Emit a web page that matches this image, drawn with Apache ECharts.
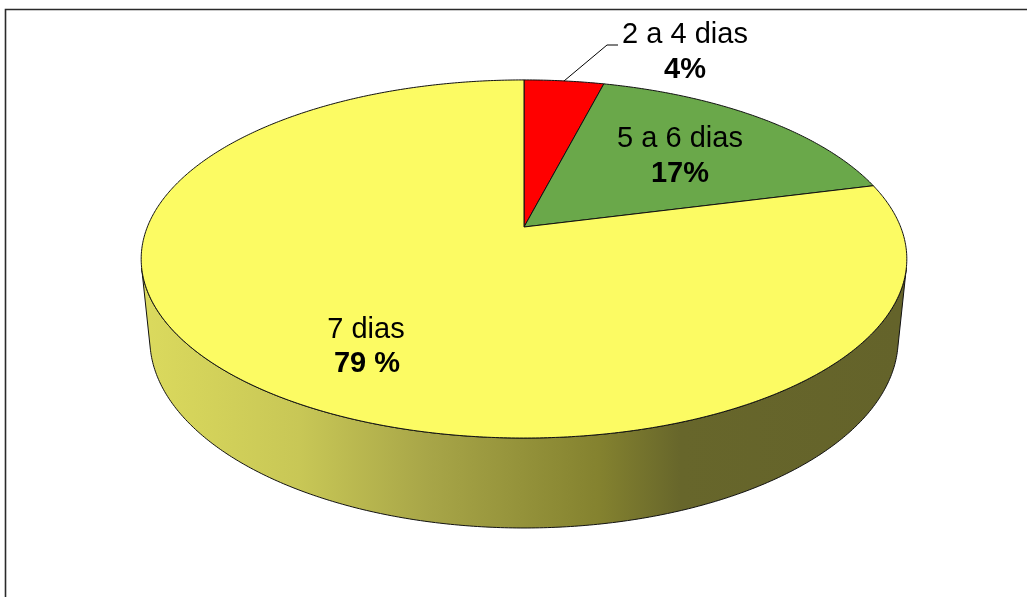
<!DOCTYPE html>
<html>
<head>
<meta charset="utf-8">
<style>
  html, body { margin: 0; padding: 0; background: #ffffff; }
  #chart { width: 1027px; height: 597px; }
</style>
<script src="https://cdn.jsdelivr.net/npm/echarts@6/dist/echarts.min.js"></script>
</head>
<body>
<div id="chart"></div>
<script>
// Days per week
const categories = ['2 a 4 dias', '5 a 6 dias', '7 dias'];
const shares = [4, 17, 79];
const shareLabels = ['4%', '17%', '79 %'];
const sliceColors = ['#ff0000', '#6aa84a', '#fcfb63'];

// ---- 3D pie camera (perspective view of a flat cylinder) ----
const VIEW = {
  cx: 524, cy: 227,          // screen point of the disc centre
  focal: 1872,               // focal length, px
  dist: 4.97,                // camera distance in disc radii
  tilt: 27.4 * Math.PI / 180,
  thickness: 0.241           // cylinder height in disc radii
};
const sinT = Math.sin(VIEW.tilt), cosT = Math.cos(VIEW.tilt);

function project(X, Y, Z) {
  const depth = VIEW.dist - Y * sinT + Z * cosT;
  const up = Y * cosT + Z * sinT;
  return [VIEW.cx + VIEW.focal * X / depth, VIEW.cy - VIEW.focal * up / depth];
}
// angle in degrees, clockwise from the back (12 o'clock)
function rim(deg, r, Y) {
  const a = deg * Math.PI / 180;
  return project(r * Math.sin(a), Y, r * Math.cos(a));
}
// silhouette angles of the side wall
const silZ = -1 / (VIEW.dist * cosT);
const silRight = Math.acos(silZ) * 180 / Math.PI;
const silLeft = 360 - silRight;

const total = shares.reduce((s, v) => s + v, 0);
const starts = shares.map((v, i) => shares.slice(0, i).reduce((s, x) => s + x, 0));
const seriesData = shares.map((v, i) => ({ name: categories[i], value: [v, starts[i]] }));

// label layout: centre of the name line and the percentage line
const labelLayout = [
  { name: [685, 35], pct: [685, 70], leader: [[607, 45], [618, 45]] },
  { name: [680, 139], pct: [680, 174] },
  { name: [366, 330], pct: [367, 364] }
];

const sideShade = {
  type: 'linear', x: 150, y: 0, x2: 898, y2: 0, global: true,
  colorStops: [
    { offset: 0, color: '#dad95d' },
    { offset: 0.2, color: '#c8c756' },
    { offset: 0.37, color: '#a8a648' },
    { offset: 0.6, color: '#84822f' },
    { offset: 0.71, color: '#67662b' },
    { offset: 1, color: '#64632a' }
  ]
};

function sliceAngles(api) {
  const v = api.value(0), s = api.value(1);
  return [s / total * 360, (s + v) / total * 360];
}

function renderSide(params, api) {
  const [a0, a1] = sliceAngles(api);
  const s0 = Math.max(a0, silRight), s1 = Math.min(a1, silLeft);
  if (s1 <= s0) return { type: 'group', children: [] };
  const top = [], bottom = [];
  const steps = Math.max(2, Math.ceil((s1 - s0) / 0.5));
  for (let k = 0; k <= steps; k++) {
    const d = s0 + (s1 - s0) * k / steps;
    top.push(rim(d, 1, 0));
    bottom.push(rim(d, 1, -VIEW.thickness));
  }
  const pts = top.concat(bottom.reverse());
  return {
    type: 'polygon',
    shape: { points: pts },
    style: { fill: sideShade, stroke: '#111111', lineWidth: 1 }
  };
}

function renderTop(params, api) {
  const i = params.dataIndex;
  const [a0, a1] = sliceAngles(api);
  const pts = [project(0, 0, 0)];
  const steps = Math.max(2, Math.ceil((a1 - a0) / 0.5));
  for (let k = 0; k <= steps; k++) pts.push(rim(a0 + (a1 - a0) * k / steps, 1, 0));
  const children = [{
    type: 'polygon',
    shape: { points: pts },
    style: { fill: sliceColors[i], stroke: '#111111', lineWidth: 1 }
  }];
  const lay = labelLayout[i];
  if (lay.leader) {
    const edge = rim((a0 + a1) / 2, 1, 0);
    children.push({
      type: 'polyline',
      shape: { points: [edge].concat(lay.leader) },
      style: { stroke: '#000000', lineWidth: 1, fill: null }
    });
  }
  const textStyle = (txt, weight) => ({
    text: txt, fill: '#000000',
    fontFamily: '"Liberation Sans", Arial, sans-serif',
    fontSize: 29, fontWeight: weight,
    align: 'center', verticalAlign: 'middle',
    textAlign: 'center', textVerticalAlign: 'middle'
  });
  children.push({ type: 'text', x: lay.name[0], y: lay.name[1], style: textStyle(categories[i], 'normal') });
  children.push({ type: 'text', x: lay.pct[0], y: lay.pct[1], style: textStyle(shareLabels[i], 'bold') });
  return { type: 'group', children: children, z2: 10 };
}

const chart = echarts.init(document.getElementById('chart'), null, { renderer: 'canvas' });
chart.setOption({
  backgroundColor: '#ffffff',
  animation: false,
  graphic: [{
    type: 'rect',
    shape: { x: 5.5, y: 9.5, width: 1100, height: 700 },
    style: { fill: null, stroke: '#2a2a2a', lineWidth: 1.6 },
    silent: true
  }],
  series: [
    {
      type: 'custom', name: 'lado', coordinateSystem: 'none',
      renderItem: renderSide, data: seriesData, z: 1
    },
    {
      type: 'custom', name: 'topo', coordinateSystem: 'none',
      renderItem: renderTop, data: seriesData, z: 2
    }
  ]
});
</script>
</body>
</html>
